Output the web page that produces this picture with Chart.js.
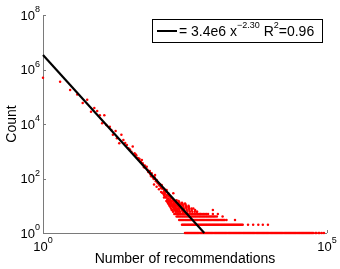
<!DOCTYPE html>
<html>
<head>
<meta charset="utf-8">
<script src="https://cdn.jsdelivr.net/npm/chart.js@4/dist/chart.umd.min.js"></script>
<style>
html,body{margin:0;padding:0;background:#fff;}
#c{display:block;}
</style>
</head>
<body>
<canvas id="c" width="340" height="269"></canvas>
<script>
// ---- data ----
const xTickExps = [0, 5];
const yTickExps = [0, 2, 4, 6, 8];
const fitX = [1, 692];
const fitY = [3.4e6, 1];
const fitLabel = ['= 3.4e6 x', '\u22122.30', ' R', '2', '=0.96'];
const xTitle = 'Number of recommendations';
const yTitle = 'Count';

const bandX = [1,2,3,4,5,6,7,8,9,10,11,12,13,15,16,17,19,20,22,24,26,28,30,32,34,36,38,41,43,44,46,48,50,52,53,55,57,58,60,62,64,67,69,71,73,76,78,80,82,85,88,90,92,94,97,100,103,107,110,112,115,118,120,123,126,131,135,138,140,145,150,155,158,160,165,170,175,178,184,188,192,197,205,210,215,225,230,240,250,260,276,290,300,338,443,510,580,
  90,100,110,120,130,140,150,160,170,180,190,200,210,220,230,250,190,170,150,135,
  125,135,145,155,165,175,185,195,205,215,225,235,245,160,180,200,140,150,170];
const bandY = [500000,355000,177000,120000,59000,77000,28000,39000,30000,21000,10600,21000,9200,8000,6000,4000,5500,3000,1950,4000,2600,2000,1700,1300,1150,960,1480,840,760,700,560,550,520,420,400,480,360,315,260,300,250,270,210,178,170,190,140,120,155,115,100,95,110,134,80,88,70,67,62,55,60,50,45,58,42,44,35,30,39,32,38,26,24,29,22,22,18,20,19,15,16,29,13,12,12,16,10,8,8,9,11,7,6,9,8,6,5,
  60,50,40,32,28,22,20,15,15,12,11,10,9,8,7,6,7,10,15,20,
  30,25,20,17,14,12,10,9,8,7,6,5,5,18,14,11,27,24,16];

const row1X = [316,330,345,360,376,392,410,428,447,467,488,510,533,557,582,608,635,663,693,724,756,790,825,862,900,940,982,1026,1072,1120,1170,1222,1276,1333,1393,1455,1520,1588,1659,1733,1810,1891,1975,2063,2155,2251,2352,2457,2566,2681,2800,2925,3056,3192,3335,3483,3639,3801,3971,4148,4333,4527,4729,4940,5160,5391,5631,5883,6145,6420,6706,7006,7318,7645,7987,8343,8716,9105,9511,9936,10380,10840,11330,11830,12360,12910,13490,14090,14720,15380,16060,16780,17530,18310,19130,19980,20880,21810,22780,23800,24860,25970,27130,28340,29610,30930,32310,33750,35260,36830,38480,40190,41990,43860,45820,47870,50000,52240,54570,57000,62210,64990,70920,74090,80850,88230];
const row2X = [280,292,305,318,332,347,362,378,395,412,430,449,469,490,511,534,557,582,608,635,663,692,723,755,788,823,859,897,937,978,1021,1066,1114,1163,1214,1268,1324,1382,1443,1507,1574,1643,1716,1792,1871,1953,2040,2130,2224,2322,2425,2532,2644,2761,2883,3010,3143,3282,4070,5010,6170,7410,9120];
const row3X = [250,262,275,288,302,317,332,348,365,383,401,421,441,462,485,508,533,559,586,614,644,675,708,742,778,816,855,897,940,986,1034,1084,1136,1191,1249,1310,1373,1440,1510,1583,1700,2400];
const row4X = [225,238,252,266,282,298,315,333,352,372,394,416,440,465,492,520,550,581,615,650,687,726,768,812,858,908,960,1015,1073,1150,1450];
const row5X = [205,218,232,247,263,280,298,317,337,359,382,406,432,460,490,521,554,590,628,668,711,757,806,980,1200];
const row6X = [195,215,237,262,288,317,350,386,425,470,516];
const row7X = [185,205,227,250,278,305,340,376,416,476,980];
const row8X = [180,200,222,246,273,302,335,371,411];
const row9X = [175,195,217,241,268,297,331,370];
const row10X = [170,190,212,236,263,293,327,365];
const row11X = [165,185,207,231,258,288,322];
const row12X = [160,180,202,226,253,283,317];
const row13X = [158,178,200,224,251,280];
const row14X = [155,175,197,221,248];
const row15X = [150,170,192,215,243];
const rowXs = [row1X,row2X,row3X,row4X,row5X,row6X,row7X,row8X,row9X,row10X,row11X,row12X,row13X,row14X,row15X];
const rowCounts = [1,2,3,4,5,6,7,8,9,10,11,12,13,14,15];

// ---- build ----
const pts = bandX.map((x,i)=>({x:x, y:bandY[i]}));
rowXs.forEach((xs,k)=>xs.forEach(x=>pts.push({x:x, y:rowCounts[k]})));
const fitPts = fitX.map((x,i)=>({x:x, y:fitY[i]}));

const FONT = '"Liberation Sans", Helvetica, Arial, sans-serif';
const AXC = '#7a7a7a';

function drawPow(ctx, exp, x, y, align, size, supSize){
  ctx.font = size + 'px ' + FONT;
  const wb = ctx.measureText('10').width;
  ctx.font = supSize + 'px ' + FONT;
  const ws = ctx.measureText(String(exp)).width;
  const total = wb + ws;
  let sx = align === 'right' ? x - total : x - total/2;
  ctx.textAlign = 'left';
  ctx.textBaseline = 'middle';
  ctx.fillStyle = '#000';
  ctx.font = size + 'px ' + FONT;
  ctx.fillText('10', sx, y);
  ctx.font = supSize + 'px ' + FONT;
  ctx.fillText(String(exp), sx + wb, y - 6);
}

const decor = {
  id: 'decor',
  beforeDatasetsDraw(chart){
    const ctx = chart.ctx, a = chart.chartArea;
    ctx.save();
    ctx.strokeStyle = AXC; ctx.lineWidth = 1;
    ctx.beginPath();
    ctx.moveTo(Math.round(a.left)+0.5, a.top);
    ctx.lineTo(Math.round(a.left)+0.5, Math.round(a.bottom)+0.5);
    ctx.lineTo(a.right, Math.round(a.bottom)+0.5);
    ctx.stroke();
    const xs = chart.scales.x, ys = chart.scales.y;
    ctx.beginPath();
    yTickExps.forEach(e=>{
      const py = Math.round(ys.getPixelForValue(Math.pow(10,e)))+0.5;
      ctx.moveTo(a.left, py); ctx.lineTo(a.left+3, py);
    });
    xTickExps.forEach(e=>{
      const px = Math.round(xs.getPixelForValue(Math.pow(10,e)))+0.5;
      ctx.moveTo(px, a.bottom); ctx.lineTo(px, a.bottom-3);
    });
    ctx.stroke();
    ctx.restore();
  },
  afterDraw(chart){
    const ctx = chart.ctx, a = chart.chartArea;
    const xs = chart.scales.x, ys = chart.scales.y;
    ctx.save();
    yTickExps.forEach(e=>{
      drawPow(ctx, e, a.left - 3, ys.getPixelForValue(Math.pow(10,e)) + 1, 'right', 13, 9);
    });
    xTickExps.forEach(e=>{
      drawPow(ctx, e, xs.getPixelForValue(Math.pow(10,e)), a.bottom + 14, 'center', 13, 9);
    });
    ctx.fillStyle = '#000';
    ctx.font = '14px ' + FONT;
    ctx.textAlign = 'center';
    ctx.textBaseline = 'middle';
    ctx.fillText(xTitle, (a.left + a.right)/2, 259);
    ctx.save();
    ctx.translate(12, (a.top + a.bottom)/2);
    ctx.rotate(-Math.PI/2);
    ctx.fillText(yTitle, 0, 0);
    ctx.restore();
    // legend
    const bx = 152.5, by = 19.5, bw = 170, bh = 23;
    ctx.fillStyle = '#fff';
    ctx.fillRect(bx, by, bw, bh);
    ctx.strokeStyle = '#000'; ctx.lineWidth = 1;
    ctx.strokeRect(bx, by, bw, bh);
    ctx.lineWidth = 2;
    ctx.beginPath(); ctx.moveTo(157, 31); ctx.lineTo(177, 31); ctx.stroke();
    let tx = 179; const ty = 32;
    ctx.textAlign = 'left'; ctx.textBaseline = 'middle'; ctx.fillStyle = '#000';
    fitLabel.forEach((s,i)=>{
      const sup = (i === 1 || i === 3);
      ctx.font = (sup ? 9 : 14) + 'px ' + FONT;
      ctx.fillText(s, tx, sup ? ty - 6 : ty);
      tx += ctx.measureText(s).width;
    });
    ctx.restore();
  }
};

new Chart(document.getElementById('c'), {
  type: 'scatter',
  data: {
    datasets: [
      { type: 'line', data: fitPts, borderColor: '#000', borderWidth: 2.2, pointRadius: 0, showLine: true, fill: false, clip: false },
      { data: pts, backgroundColor: '#ff0000', borderWidth: 0, pointRadius: 1.25, pointStyle: 'circle', clip: false }
    ]
  },
  options: {
    responsive: false,
    animation: false,
    devicePixelRatio: 1,
    layout: { padding: { left: 43, right: 13, top: 15, bottom: 36 } },
    plugins: { legend: { display: false }, tooltip: { enabled: false } },
    scales: {
      x: { type: 'logarithmic', min: 1, max: 100000, display: false },
      y: { type: 'logarithmic', min: 1, max: 1e8, display: false }
    }
  },
  plugins: [decor]
});
</script>
</body>
</html>
